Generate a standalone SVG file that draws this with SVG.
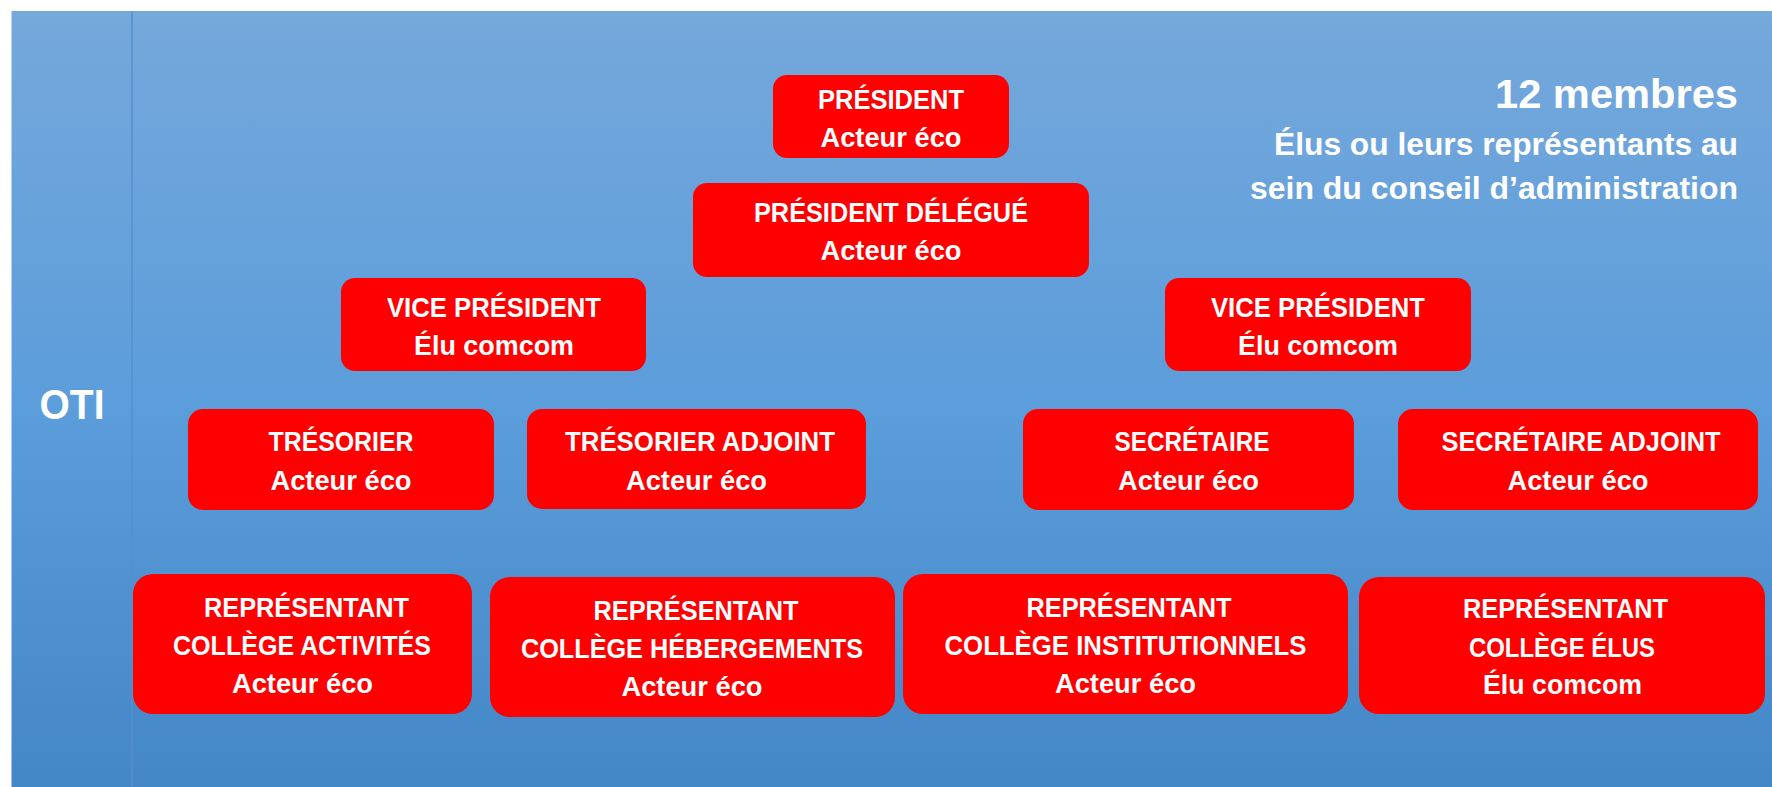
<svg xmlns="http://www.w3.org/2000/svg" width="1772" height="787" viewBox="0 0 1772 787">
  <defs>
    <linearGradient id="bg" x1="0" y1="0" x2="0" y2="1">
      <stop offset="0" stop-color="#75A8DB"/>
      <stop offset="0.5" stop-color="#5C9DDB"/>
      <stop offset="1" stop-color="#4487C6"/>
    </linearGradient>
  </defs>
  <style>
    .box { fill: #FF0000; }
    .t { font-family: "Liberation Sans", Arial, sans-serif; font-weight: bold; font-size: 27px; fill: #FFFFFF; text-anchor: middle; }
    .title { font-family: "Liberation Sans", Arial, sans-serif; font-weight: bold; fill: #FFFFFF; text-anchor: end; }
  </style>
  <rect x="0" y="0" width="1772" height="787" fill="#FFFFFF"/>
  <rect x="11.5" y="11" width="1760.5" height="776" fill="url(#bg)"/>
  <line x1="132" y1="11" x2="132" y2="787" stroke="#5490CD" stroke-width="1.5"/>

  <g id="oti">
    <text x="39.5" y="419" font-family="'Liberation Sans', Arial, sans-serif" font-weight="bold" font-size="43" fill="#FFFFFF" textLength="65" lengthAdjust="spacingAndGlyphs">OTI</text>
  </g>

  <g id="title">
    <text class="title" x="1738" y="108" font-size="40" textLength="243" lengthAdjust="spacingAndGlyphs">12 membres</text>
    <text class="title" x="1738" y="155" font-size="31" textLength="464" lengthAdjust="spacingAndGlyphs">Élus ou leurs représentants au</text>
    <text class="title" x="1738" y="199" font-size="31" textLength="488" lengthAdjust="spacingAndGlyphs">sein du conseil d’administration</text>
  </g>

  <g id="connectors"></g>

  <g id="president">
    <rect class="box" x="773" y="75" width="236" height="83" rx="14"/>
    <text class="t" x="891" y="109" textLength="146" lengthAdjust="spacingAndGlyphs">PRÉSIDENT</text>
    <text class="t" x="891" y="147" textLength="141" lengthAdjust="spacingAndGlyphs">Acteur éco</text>
  </g>

  <g id="president-delegue">
    <rect class="box" x="693" y="183" width="396" height="94" rx="14"/>
    <text class="t" x="891" y="222" textLength="274" lengthAdjust="spacingAndGlyphs">PRÉSIDENT DÉLÉGUÉ</text>
    <text class="t" x="891" y="260" textLength="141" lengthAdjust="spacingAndGlyphs">Acteur éco</text>
  </g>

  <g id="vice-president-1">
    <rect class="box" x="341" y="278" width="305" height="93" rx="14"/>
    <text class="t" x="494" y="317" textLength="214" lengthAdjust="spacingAndGlyphs">VICE PRÉSIDENT</text>
    <text class="t" x="494" y="355" textLength="160" lengthAdjust="spacingAndGlyphs">Élu comcom</text>
  </g>

  <g id="vice-president-2">
    <rect class="box" x="1165" y="278" width="306" height="93" rx="14"/>
    <text class="t" x="1318" y="317" textLength="214" lengthAdjust="spacingAndGlyphs">VICE PRÉSIDENT</text>
    <text class="t" x="1318" y="355" textLength="160" lengthAdjust="spacingAndGlyphs">Élu comcom</text>
  </g>

  <g id="tresorier">
    <rect class="box" x="188" y="409" width="306" height="101" rx="15"/>
    <text class="t" x="341" y="451" textLength="145" lengthAdjust="spacingAndGlyphs">TRÉSORIER</text>
    <text class="t" x="341" y="489.5" textLength="141" lengthAdjust="spacingAndGlyphs">Acteur éco</text>
  </g>

  <g id="tresorier-adjoint">
    <rect class="box" x="527" y="409" width="339" height="100" rx="15"/>
    <text class="t" x="700" y="451" textLength="270" lengthAdjust="spacingAndGlyphs">TRÉSORIER ADJOINT</text>
    <text class="t" x="696.5" y="489.5" textLength="141" lengthAdjust="spacingAndGlyphs">Acteur éco</text>
  </g>

  <g id="secretaire">
    <rect class="box" x="1023" y="409" width="331" height="101" rx="15"/>
    <text class="t" x="1192" y="451" textLength="155" lengthAdjust="spacingAndGlyphs">SECRÉTAIRE</text>
    <text class="t" x="1188.5" y="489.5" textLength="141" lengthAdjust="spacingAndGlyphs">Acteur éco</text>
  </g>

  <g id="secretaire-adjoint">
    <rect class="box" x="1398" y="409" width="360" height="101" rx="15"/>
    <text class="t" x="1581" y="451" textLength="279" lengthAdjust="spacingAndGlyphs">SECRÉTAIRE ADJOINT</text>
    <text class="t" x="1578" y="489.5" textLength="141" lengthAdjust="spacingAndGlyphs">Acteur éco</text>
  </g>

  <g id="rep-activites">
    <rect class="box" x="133" y="574" width="339" height="140" rx="20"/>
    <text class="t" x="306.5" y="617" textLength="205" lengthAdjust="spacingAndGlyphs">REPRÉSENTANT</text>
    <text class="t" x="302" y="654.5" textLength="258" lengthAdjust="spacingAndGlyphs">COLLÈGE ACTIVITÉS</text>
    <text class="t" x="302.5" y="693" textLength="141" lengthAdjust="spacingAndGlyphs">Acteur éco</text>
  </g>

  <g id="rep-hebergements">
    <rect class="box" x="490" y="577" width="405" height="140" rx="20"/>
    <text class="t" x="696" y="620" textLength="205" lengthAdjust="spacingAndGlyphs">REPRÉSENTANT</text>
    <text class="t" x="692" y="657.5" textLength="342" lengthAdjust="spacingAndGlyphs">COLLÈGE HÉBERGEMENTS</text>
    <text class="t" x="692" y="696" textLength="141" lengthAdjust="spacingAndGlyphs">Acteur éco</text>
  </g>

  <g id="rep-institutionnels">
    <rect class="box" x="903" y="574" width="445" height="140" rx="20"/>
    <text class="t" x="1129" y="617" textLength="205" lengthAdjust="spacingAndGlyphs">REPRÉSENTANT</text>
    <text class="t" x="1125.5" y="655" textLength="362" lengthAdjust="spacingAndGlyphs">COLLÈGE INSTITUTIONNELS</text>
    <text class="t" x="1125.5" y="693" textLength="141" lengthAdjust="spacingAndGlyphs">Acteur éco</text>
  </g>

  <g id="rep-elus">
    <rect class="box" x="1359" y="577" width="406" height="137" rx="20"/>
    <text class="t" x="1565.5" y="618" textLength="205" lengthAdjust="spacingAndGlyphs">REPRÉSENTANT</text>
    <text class="t" x="1562" y="656.5" textLength="186" lengthAdjust="spacingAndGlyphs">COLLÈGE ÉLUS</text>
    <text class="t" x="1562.5" y="694" textLength="159" lengthAdjust="spacingAndGlyphs">Élu comcom</text>
  </g>
</svg>
